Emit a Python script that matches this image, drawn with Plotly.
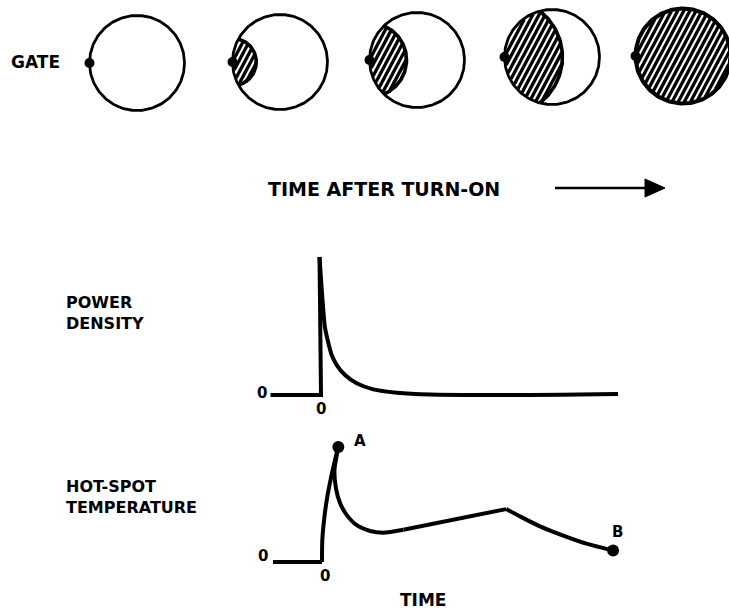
import numpy as np
import plotly.graph_objects as go

W, H = 729, 612
FONT = "DejaVu Sans"
INK = "black"

# ---------------------------------------------------------------- data
# Conducting area spreading out from the gate at successive instants
# (fraction of the device diameter reached by the turn-on front)
spread_reach = [0.0, 0.25, 0.39, 0.61, 1.0]

# Power density vs time (arbitrary units); turn-on at t = 0
power_t = [-1.7, 0.0, -0.05, 0.13, 0.25, 0.36, 0.53, 0.81, 1.20, 1.76, 2.55, 3.67, 4.78, 7.0, 9.3, 10.0]
power_v = [0.0, 0.0, 1.00, 0.495, 0.375, 0.29, 0.217, 0.145, 0.085, 0.041, 0.017, 0.003, 0.0, 0.0, 0.005, 0.007]

# Hot-spot temperature vs time (arbitrary units); A = peak, B = end point
temp_t = [-1.65, 0.0, 0.01, 0.08, 0.18, 0.30, 0.44, 0.55,
          0.42, 0.47, 0.61, 0.83, 1.17, 1.62, 2.06, 2.74,
          6.20, 6.64, 7.34, 8.12, 8.90, 9.80]
temp_v = [0.0, 0.0, 0.19, 0.39, 0.57, 0.73, 0.89, 1.00,
          0.80, 0.64, 0.51, 0.41, 0.32, 0.27, 0.255, 0.28,
          0.46, 0.40, 0.31, 0.23, 0.16, 0.10]
peak_label, end_label = "A", "B"

# ---------------------------------------------------------------- layout helpers
PX_PER_T = 29.7          # horizontal scale shared by both time plots


def box(px_l, px_r, py_t, py_b, t0_px, v0_py, px_per_v):
    """Domain/range for an axis pair so that the data land on a given pixel box."""
    xd = [px_l / W, px_r / W]
    xr = [(px_l - t0_px) / PX_PER_T, (px_r - t0_px) / PX_PER_T]
    yd = [1 - py_b / H, 1 - py_t / H]
    yr = [(v0_py - py_b) / px_per_v, (v0_py - py_t) / px_per_v]
    return xd, xr, yd, yr


fig = go.Figure()

# ---------------------------------------------------------------- spreading discs (pixel canvas x/y)
centers = [(137, 63), (280, 62), (417, 60), (552, 57), (683, 56)]
R = 47.5
theta = np.deg2rad(62)
d = np.array([np.cos(theta), -np.sin(theta)])   # hatch direction (up-right, y down)
n = np.array([np.sin(theta), np.cos(theta)])
step = 5.4


def disc_interval(p0, q, r):
    w = p0 - q
    b = w @ d
    k = w @ w - r * r
    disc = b * b - k
    if disc <= 0:
        return None
    s = np.sqrt(disc)
    return (-b - s, -b + s)


for (cx, cy), reach in zip(centers, spread_reach):
    C = np.array([cx, cy], float)
    G = C - np.array([R, 0.0])
    s_rad = reach * 2 * R
    if reach > 0:
        hx, hy = [], []
        for c in np.arange(-R, R + step, step):
            p0 = C + c * n
            i1 = disc_interval(p0, C, R - 1.0)
            i2 = disc_interval(p0, G, s_rad + 0.5)
            if i1 is None or i2 is None:
                continue
            u0, u1 = max(i1[0], i2[0]), min(i1[1], i2[1])
            if u1 <= u0:
                continue
            a, b = p0 + u0 * d, p0 + u1 * d
            hx += [a[0], b[0], None]
            hy += [a[1], b[1], None]
        fig.add_trace(go.Scatter(x=hx, y=hy, mode="lines",
                                 line=dict(color=INK, width=3.3), hoverinfo="skip"))
        if reach < 1:
            phi_max = np.arccos(min(1.0, s_rad / (2 * R)))
            phi = np.linspace(-phi_max, phi_max, 80)
            fig.add_trace(go.Scatter(x=G[0] + s_rad * np.cos(phi), y=G[1] + s_rad * np.sin(phi),
                                     mode="lines", line=dict(color=INK, width=3.6),
                                     hoverinfo="skip"))
    ang = np.linspace(0, 2 * np.pi, 241)
    outline_w = 4.0 if reach >= 1 else 2.8
    fig.add_trace(go.Scatter(x=cx + R * np.cos(ang), y=cy + R * np.sin(ang), mode="lines",
                             line=dict(color=INK, width=outline_w), hoverinfo="skip"))
    fig.add_trace(go.Scatter(x=[G[0]], y=[G[1]], mode="markers",
                             marker=dict(color=INK, size=10), hoverinfo="skip"))

canvas_ax = dict(visible=False, domain=[0, 1], fixedrange=True)
fig.update_layout(xaxis=dict(canvas_ax, range=[0, W]),
                  yaxis=dict(canvas_ax, range=[H, 0]))

# ---------------------------------------------------------------- power density plot (x2/y2)
xd, xr, yd, yr = box(245, 640, 240, 418, 321, 395, 138)
line_style = dict(color=INK, width=4)
fig.add_trace(go.Scatter(x=power_t[:3], y=power_v[:3], xaxis="x2", yaxis="y2",
                         mode="lines", line=line_style, hoverinfo="skip"))
fig.add_trace(go.Scatter(x=power_t[2:], y=power_v[2:], xaxis="x2", yaxis="y2",
                         mode="lines", line=dict(line_style, shape="spline", smoothing=0.6),
                         hoverinfo="skip"))
fig.update_layout(xaxis2=dict(visible=False, domain=xd, range=xr, anchor="y2", fixedrange=True),
                  yaxis2=dict(visible=False, domain=yd, range=yr, anchor="x2", fixedrange=True))

# ---------------------------------------------------------------- hot-spot temperature plot (x3/y3)
xd, xr, yd, yr = box(245, 640, 425, 592, 322, 562, 115)
segments = [(0, 1, "linear"), (1, 7, "spline"), (7, 15, "spline"),
            (15, 16, "linear"), (16, 21, "spline")]
for i0, i1, shp in segments:
    fig.add_trace(go.Scatter(x=temp_t[i0:i1 + 1], y=temp_v[i0:i1 + 1], xaxis="x3", yaxis="y3",
                             mode="lines", line=dict(line_style, shape=shp, smoothing=0.7),
                             hoverinfo="skip"))
fig.add_trace(go.Scatter(x=[temp_t[7], temp_t[-1]], y=[temp_v[7], temp_v[-1]],
                         xaxis="x3", yaxis="y3", mode="markers",
                         marker=dict(color=INK, size=12), hoverinfo="skip"))
fig.update_layout(xaxis3=dict(visible=False, domain=xd, range=xr, anchor="y3", fixedrange=True),
                  yaxis3=dict(visible=False, domain=yd, range=yr, anchor="x3", fixedrange=True))

# ---------------------------------------------------------------- lettering
ann = []


def label(text, x, y, size=17, xref="x", yref="y", xanchor="left", yanchor="middle",
          xshift=0, yshift=0):
    ann.append(dict(text=text, x=x, y=y, xref=xref, yref=yref, showarrow=False,
                    xanchor=xanchor, yanchor=yanchor, xshift=xshift, yshift=yshift,
                    align="left",
                    font=dict(family=FONT, size=size, color=INK, weight="bold")))


label("GATE", 9, 62)
label("TIME AFTER TURN-ON", 266, 189, size=19)
label("POWER<br>DENSITY", 64, 313, size=16)
label("HOT-SPOT<br>TEMPERATURE", 64, 497, size=16)
label("TIME", 423, 600, size=17, xanchor="center")

# axis origin marks
label("0", power_t[0], 0, size=15, xref="x2", yref="y2", xanchor="right", xshift=-2, yshift=2)
label("0", 0, 0, size=15, xref="x2", yref="y2", xanchor="center", yanchor="top", yshift=-3)
label("0", temp_t[0], 0, size=15, xref="x3", yref="y3", xanchor="right", xshift=-3, yshift=6)
label("0", 0, 0, size=15, xref="x3", yref="y3", xanchor="center", yanchor="top", xshift=3, yshift=-3)
label(peak_label, temp_t[7], temp_v[7], size=15, xref="x3", yref="y3", xanchor="center",
      xshift=22, yshift=6)
label(end_label, temp_t[-1], temp_v[-1], size=15, xref="x3", yref="y3", xanchor="center",
      xshift=4, yshift=19)

# time arrow
shapes = [
    dict(type="line", xref="x", yref="y", x0=555, y0=188, x1=650, y1=188,
         line=dict(color=INK, width=2.5)),
    dict(type="path", xref="x", yref="y", path="M 645 179 L 665 188 L 645 197 Z",
         fillcolor=INK, line=dict(color=INK, width=1)),
]

fig.update_layout(width=W, height=H, margin=dict(l=0, r=0, t=0, b=0),
                  paper_bgcolor="white", plot_bgcolor="white", showlegend=False,
                  annotations=ann, shapes=shapes)

fig.write_html("out.html", config={"displayModeBar": False})
